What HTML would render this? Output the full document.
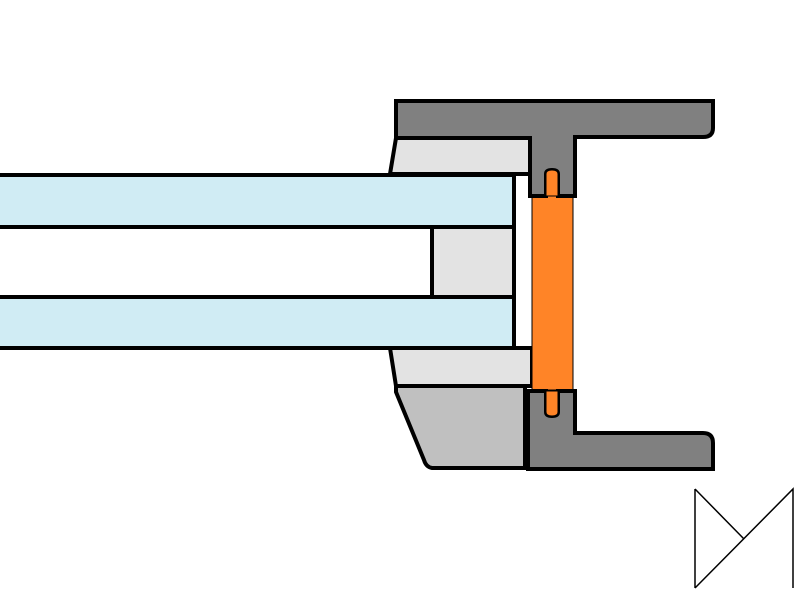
<!DOCTYPE html>
<html><head><style>html,body{margin:0;padding:0;background:#fff}svg{display:block}</style></head>
<body>
<svg width="802" height="595" viewBox="0 0 802 595" xmlns="http://www.w3.org/2000/svg">
<g stroke="#000" stroke-width="4" stroke-linejoin="miter">
<!-- upper light gray -->
<path d="M396,138 L530,138 L530,174 L390,174 Z" fill="#e3e3e3"/>
<!-- lower light gray -->
<path d="M390,348 L532,348 L532,386 L396,386 Z" fill="#e3e3e3"/>
<!-- lower medium gray -->
<path d="M396,386 L525,386 L525,468 L432,468 Q426,467 424,460 L396,392 Z" fill="#c0c0c0"/>
<!-- glass -->
<rect x="-5" y="175" width="519" height="52" fill="#d0ecf4"/>
<rect x="-5" y="297" width="519" height="51" fill="#d0ecf4"/>
<!-- spacer -->
<rect x="432" y="227" width="82" height="70" fill="#e3e3e3"/>
<!-- orange -->
<path d="M532,196 L573,196 L573,390 L532,390 Z" fill="#ff8427" stroke-width="1"/>
<!-- top dark piece -->
<path d="M396,101 L713,101 L713,128 Q713,137 703,137 L575,137 L575,196 L558,196 L558,174 Q558,170 552,170 Q546,170 546,174 L546,196 L530,196 L530,138 L396,138 Z" fill="#808080"/>
<path d="M546,196 L546,174 Q546,170 552,170 Q558,170 558,174 L558,196 Z" fill="#ff8427" stroke-width="1"/>
<!-- bottom dark piece -->
<path d="M528,391 L546,391 L546,412 Q546,416 552,416 Q558,416 558,412 L558,391 L575,391 L575,433 L703,433 Q713,433 713,443 L713,469 L528,469 Z" fill="#808080"/>
<path d="M546,391 L546,412 Q546,416 552,416 Q558,416 558,412 L558,391 Z" fill="#ff8427" stroke-width="1"/>
</g>
<g stroke="#000" stroke-width="1.5" fill="none">
<path d="M695,489 L695,588 M695,489 L744,539 M695,588 L793,489 L793,588"/>
</g>
</svg>
</body></html>
